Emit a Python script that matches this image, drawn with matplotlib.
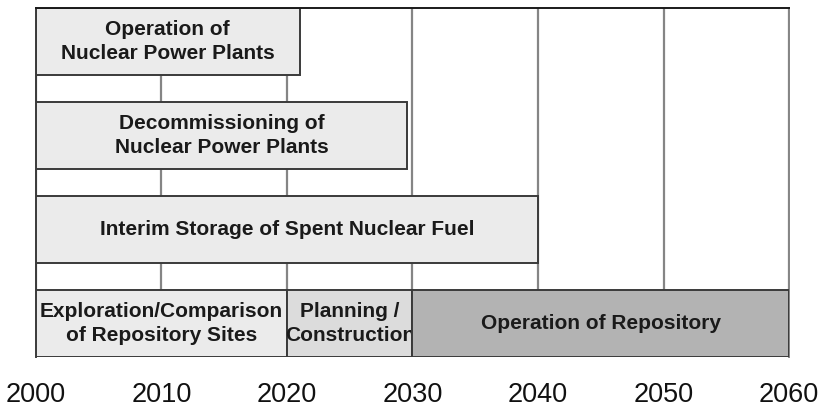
import numpy as np
import matplotlib
matplotlib.use("Agg")
import matplotlib.pyplot as plt

plt.rcParams['font.family'] = ['Liberation Sans', 'DejaVu Sans']

# Phases of the timeline (top row = 0)
labels = [
    "Operation of\nNuclear Power Plants",
    "Decommissioning of\nNuclear Power Plants",
    "Interim Storage of Spent Nuclear Fuel",
    "Exploration/Comparison\nof Repository Sites",
    "Planning /\nConstruction",
    "Operation of Repository",
]
rows = [0, 1, 2, 3, 3, 3]
starts = [2000, 2000, 2000, 2000, 2020, 2030]
ends = [2021, 2029.6, 2040, 2020, 2030, 2060]
fills = ["#ebebeb", "#ebebeb", "#ebebeb", "#ebebeb", "#dcdcdc", "#b3b3b3"]

years = np.arange(2000, 2061, 10)

fig = plt.figure(figsize=(8.23, 4.09), dpi=100)
ax = fig.add_axes([0.0437, 0.1271, 0.915, 0.8533])

bar_h = 0.71
ax.set_xlim(2000, 2060)
ax.set_ylim(3 + bar_h / 2, -bar_h / 2)

# decade grid lines
for yr in years:
    ax.axvline(yr, color="#858585", lw=1.6, zorder=1)

# bars with centred labels, each label drawn before the next bar
for i, (lab, r, s, e, c) in enumerate(zip(labels, rows, starts, ends, fills)):
    ax.barh(r, e - s, left=s, height=bar_h, color=c,
            edgecolor="#3a3a3a", linewidth=1.4, zorder=2 + 2 * i)
    ax.text((s + e) / 2, r, lab, ha="center", va="center",
            fontsize=15, fontweight="bold", color="#1a1a1a",
            linespacing=1.3, zorder=3 + 2 * i)

ax.set_xticks(years)
ax.set_xticklabels([str(y) for y in years], fontsize=19.5, color="#111111")
ax.tick_params(axis="x", length=0, pad=18)
ax.set_yticks([])

for side in ["left", "right", "top", "bottom"]:
    ax.spines[side].set_color("#3a3a3a")
    ax.spines[side].set_linewidth(1.4)
ax.spines["right"].set_color("#858585")
ax.spines["top"].set_color("#1a1a1a")
ax.spines["bottom"].set_visible(False)

fig.savefig("out.png", dpi=100)
